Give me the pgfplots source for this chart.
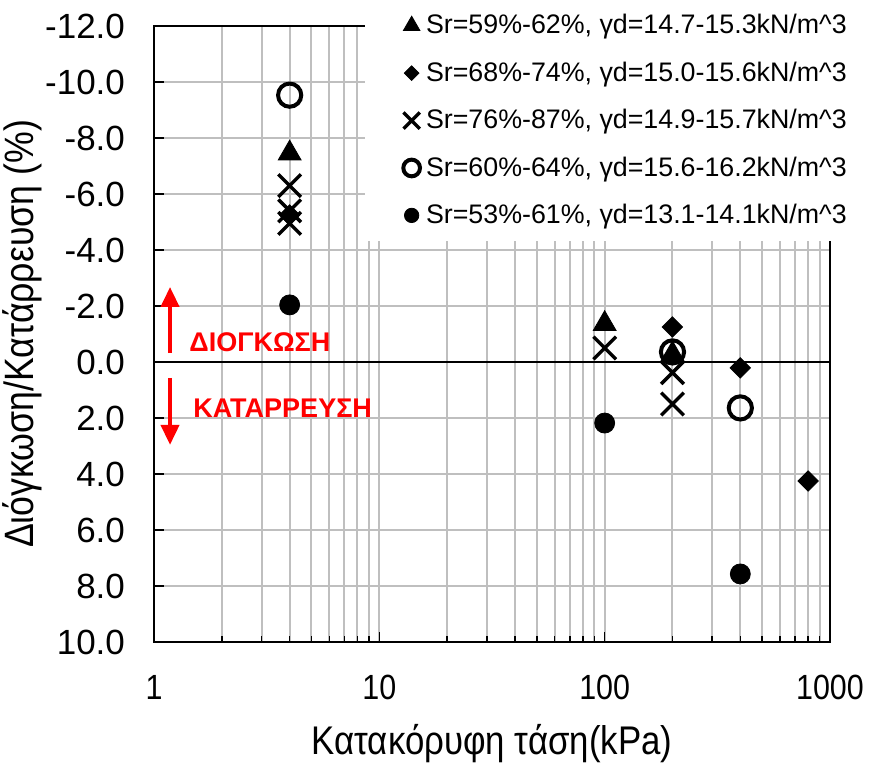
\documentclass[border=0pt]{standalone}
\usepackage{pgfplots}
\pgfplotsset{compat=1.18}
\usepackage{fontspec}
\setmainfont{Liberation Sans}
\newfontfamily\narrowfont[FakeStretch=0.87]{Liberation Sans}
\usetikzlibrary{arrows.meta}
\definecolor{gridgray}{RGB}{191,191,191}
\definecolor{markred}{RGB}{255,0,0}

\pgfplotsset{
  smallleg/.style={legend image code/.code={%
      \draw[##1,every mark/.append style={scale=0.72}] plot coordinates {(0pt,0pt)};}},
}

\begin{document}
\begin{tikzpicture}
\useasboundingbox (-77pt,-60.5pt) rectangle (362pt,321pt);
\begin{axis}[
  at={(0pt,0pt)}, anchor=south west,
  scale only axis, width=338pt, height=308pt,
  xmode=log, xmin=1, xmax=1000,
  ymin=-12, ymax=10, y dir=reverse,
  ytick={-12,-10,...,10},
  yticklabels={-12.0,-10.0,-8.0,-6.0,-4.0,-2.0,0.0,2.0,4.0,6.0,8.0,10.0},
  xtick={1,10,100,1000}, xticklabels={1,10,100,1000},
  minor xtick={2,3,4,5,6,7,8,9,20,30,40,50,60,70,80,90,200,300,400,500,600,700,800,900},
  xmajorgrids, xminorgrids, ymajorgrids,
  major grid style={gridgray, line width=1pt},
  minor grid style={gridgray, line width=1pt},
  tick pos=left, tick align=inside,
  major tick length=5pt, minor tick length=3pt,
  tick style={black, line width=0.8pt},
  axis line style={black, line width=1pt},
  yticklabel style={font=\fontsize{17.5}{21}\selectfont, xshift=-11pt},
  xticklabel style={font=\narrowfont\fontsize{17.5}{21}\selectfont, yshift=-13pt},
  xlabel={\narrowfont Κατακόρυφη τάση(kPa)},
  ylabel={\narrowfont Διόγκωση/Κατάρρευση (\%)},
  xlabel style={font=\fontsize{20}{24}\selectfont, at={(axis description cs:0.5,-0.1656)}, anchor=center},
  ylabel style={font=\fontsize{20.5}{24}\selectfont, at={(axis description cs:-0.1953,0.5)}, anchor=center},
  legend style={
    at={(axis description cs:0.312,1.042)}, anchor=north west,
    fill=white, draw=none,
    inner xsep=19pt, inner ysep=7pt,
    font=\fontsize{13.4}{16}\selectfont,
    row sep=12.5pt, column sep=3pt,
    nodes={inner sep=0pt},
  },
  legend cell align=left,
  clip=false,
]

% zero reference line
\addplot[black, line width=1pt, forget plot] coordinates {(1,0) (1000,0)};

\addplot[only marks, mark=triangle*, mark size=6.6pt, black, smallleg]
  coordinates {(4,-7.45) (100,-1.36) (200,-0.28)};
\addlegendentry{Sr=59\%-62\%, γd=14.7-15.3kN/m\^{}3}

\addplot[only marks, mark=square*, mark size=3.6pt, mark options={rotate=45}, black, smallleg]
  coordinates {(4,-5.25) (200,-1.25) (400,0.21) (800,4.25)};
\addlegendentry{Sr=68\%-74\%, γd=15.0-15.6kN/m\^{}3}

\addplot[only marks, mark=x, mark size=8pt, mark options={line width=1.7pt}, black, smallleg]
  coordinates {(4,-6.3) (4,-5.4) (4,-4.95) (100,-0.5) (200,0.38) (200,1.5)};
\addlegendentry{Sr=76\%-87\%, γd=14.9-15.7kN/m\^{}3}

\addplot[only marks, mark=o, mark size=5.8pt, mark options={line width=2pt}, black, smallleg]
  coordinates {(4,-9.53) (200,-0.36) (400,1.64)};
\addlegendentry{Sr=60\%-64\%, γd=15.6-16.2kN/m\^{}3}

\addplot[only marks, mark=*, mark size=5pt, black, smallleg]
  coordinates {(4,-2.04) (100,2.18) (400,7.57)};
\addlegendentry{Sr=53\%-61\%, γd=13.1-14.1kN/m\^{}3}

% swelling / collapse indicators
\draw[markred, line width=2pt, -{Triangle[width=9pt,length=10pt]}]
  (axis cs:1.178,-0.32) -- (axis cs:1.178,-2.68);
\draw[markred, line width=2pt, -{Triangle[width=9pt,length=10pt]}]
  (axis cs:1.178,0.57) -- (axis cs:1.178,2.96);
\node[anchor=base west, inner sep=0pt, text=markred, font=\bfseries\fontsize{13.5}{16}\selectfont]
  at (axis cs:1.43,-0.36) {ΔΙΟΓΚΩΣΗ};
\node[anchor=base west, inner sep=0pt, text=markred, font=\bfseries\fontsize{13.5}{16}\selectfont]
  at (axis cs:1.491,2.0) {ΚΑΤΑΡΡΕΥΣΗ};
\end{axis}
\end{tikzpicture}
\end{document}
